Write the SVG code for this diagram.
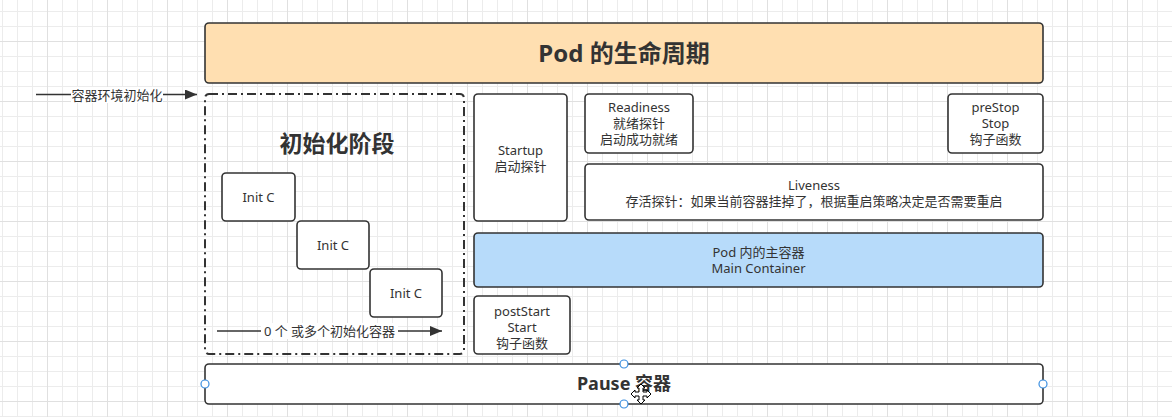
<svg xmlns="http://www.w3.org/2000/svg" width="1172" height="417" viewBox="0 0 1172 417">
<style>
.box{fill:#ffffff;stroke:#333333;stroke-width:1.6}
.t{font-family:"Noto Sans","Noto Sans CJK SC",sans-serif;font-size:13px;fill:#333333;text-anchor:middle}
.b{font-family:"Noto Sans","Noto Sans CJK SC",sans-serif;font-weight:bold;fill:#333333;text-anchor:middle}
.edge{stroke:#333333;stroke-width:1.6;fill:none}
.lbl{fill:#ffffff}
.handle{fill:#ffffff;stroke:#3a8ee0;stroke-width:1.2}
</style>
<defs>
<pattern id="grid" x="47" y="41" width="60" height="60" patternUnits="userSpaceOnUse">
<rect x="0" y="0" width="60" height="60" fill="#ffffff"/>
<rect x="15" y="0" width="1" height="60" fill="#ececec"/>
<rect x="30" y="0" width="1" height="60" fill="#ececec"/>
<rect x="45" y="0" width="1" height="60" fill="#ececec"/>
<rect x="0" y="15" width="60" height="1" fill="#ececec"/>
<rect x="0" y="30" width="60" height="1" fill="#ececec"/>
<rect x="0" y="45" width="60" height="1" fill="#ececec"/>
<rect x="0" y="0" width="1" height="60" fill="#e0e0e0"/>
<rect x="0" y="0" width="60" height="1" fill="#e0e0e0"/>
</pattern>
<marker id="arrow" markerUnits="userSpaceOnUse" markerWidth="14" markerHeight="12" refX="12" refY="5" orient="auto">
<path d="M0,0 L12,5 L0,10 Z" fill="#333333"/>
</marker>
</defs>
<rect x="0" y="0" width="1172" height="417" fill="url(#grid)"/>

<g id="connectors">
<g id="edge-env">
<line class="edge" x1="36" y1="94.5" x2="197" y2="94.5" marker-end="url(#arrow)"/>
<rect class="lbl" x="71" y="87" width="92" height="16"/>
<text class="t" x="117" y="99.5">容器环境初始化</text>
</g>
<g id="edge-init">
<line class="edge" x1="217" y1="331" x2="442" y2="331" marker-end="url(#arrow)"/>
<rect class="lbl" x="261" y="323" width="137" height="16"/>
<text class="t" x="329.5" y="335.5">0 个 或多个初始化容器</text>
</g>
</g>

<g id="title">
<rect x="205" y="23" width="838" height="60" rx="4" fill="#ffdfb1" stroke="#333333" stroke-width="1.6"/>
<text class="b" x="624" y="62" font-size="24">Pod 的生命周期</text>
</g>

<g id="init-phase">
<rect x="205" y="94" width="259" height="260" rx="4" fill="none" stroke="#333333" stroke-width="2" stroke-dasharray="9 4 2 4"/>
<text class="b" x="337" y="152" font-size="23">初始化阶段</text>
</g>

<g id="init1">
<rect class="box" x="222" y="173" width="73" height="48" rx="4"/>
<text class="t" x="258.5" y="201.5">Init C</text>
</g>
<g id="init2">
<rect class="box" x="297" y="221" width="72" height="48" rx="4"/>
<text class="t" x="333" y="249.5">Init C</text>
</g>
<g id="init3">
<rect class="box" x="370" y="269" width="72" height="48" rx="4"/>
<text class="t" x="406" y="297.5">Init C</text>
</g>

<g id="startup">
<rect class="box" x="474" y="94" width="93" height="127" rx="4"/>
<text class="t" x="520.5" y="154.5">Startup</text>
<text class="t" x="520.5" y="170.5">启动探针</text>
</g>

<g id="readiness">
<rect class="box" x="585" y="94" width="108" height="59" rx="4"/>
<text class="t" x="639" y="111.5">Readiness</text>
<text class="t" x="639" y="127.5">就绪探针</text>
<text class="t" x="639" y="143.5">启动成功就绪</text>
</g>

<g id="prestop">
<rect class="box" x="948" y="94" width="95" height="59" rx="4"/>
<text class="t" x="995.5" y="111.5">preStop</text>
<text class="t" x="995.5" y="127.5">Stop</text>
<text class="t" x="995.5" y="143.5">钩子函数</text>
</g>

<g id="liveness">
<rect class="box" x="585" y="164" width="458" height="56" rx="4"/>
<text class="t" x="814" y="189.5">Liveness</text>
<text class="t" x="814" y="205.5" font-size="14">存活探针：如果当前容器挂掉了，根据重启策略决定是否需要重启</text>
</g>

<g id="main-container">
<rect x="474" y="233" width="569" height="54" rx="4" fill="#b7dbfa" stroke="#333333" stroke-width="1.6"/>
<text class="t" x="758.5" y="256.5">Pod 内的主容器</text>
<text class="t" x="758.5" y="272.5">Main Container</text>
</g>

<g id="poststart">
<rect class="box" x="474" y="296" width="96" height="58" rx="4"/>
<text class="t" x="522" y="315.5">postStart</text>
<text class="t" x="522" y="331.5">Start</text>
<text class="t" x="522" y="347.5">钩子函数</text>
</g>

<g id="pause">
<rect class="box" x="205" y="364" width="838" height="40" rx="4"/>
<text class="b" x="624" y="390" font-size="18">Pause 容器</text>
<circle class="handle" cx="624" cy="364" r="4"/>
<circle class="handle" cx="205" cy="384" r="4"/>
<circle class="handle" cx="1043" cy="384" r="4"/>
<circle class="handle" cx="624" cy="404" r="4"/>
<path d="M641,384 L645,388 L643,388 L643,392 L647,392 L647,390 L651,394 L647,398 L647,396 L643,396 L643,400 L645,400 L641,404 L637,400 L639,400 L639,396 L635,396 L635,398 L631,394 L635,390 L635,392 L639,392 L639,388 L637,388 Z" fill="#ffffff" stroke="#000000" stroke-width="1"/>
</g>
</svg>
